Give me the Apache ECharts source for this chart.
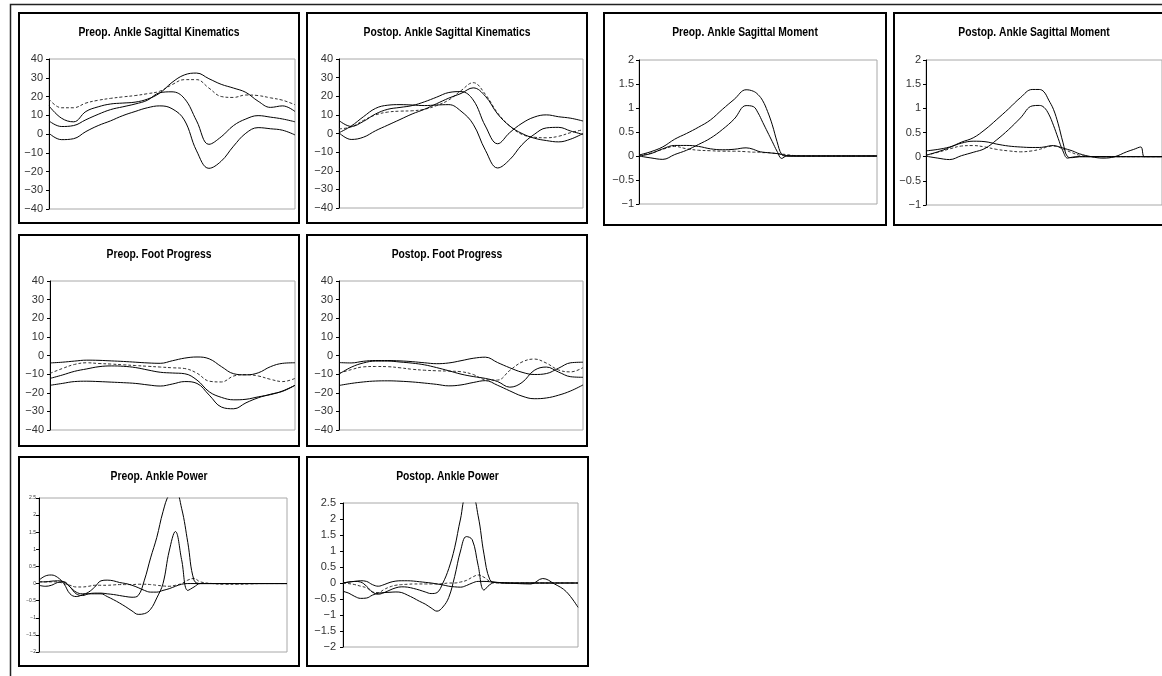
<!DOCTYPE html>
<html>
<head>
<meta charset="utf-8">
<script src="https://cdn.jsdelivr.net/npm/echarts@6/dist/echarts.min.js"></script>
<style>
html,body{margin:0;padding:0;background:#fff;}
#chart{width:1162px;height:676px;}
</style>
</head>
<body>
<div id="chart"></div>
<script>
// gait cycle % (x values)
var kinPct = [0,5,10,15,20,25,30,35,40,45,50,55,60,65,70,75,80,85,90,95,100];
var momPct = [0,5,10,15,20,25,30,35,40,45,48,50,52,54,56,58,60,62,65,70,75,80,85,88,91,92.5,95,100];
var powPct = [0,2.5,5,7.5,10,12.5,15,17.5,20,22.5,25,27.5,30,32.5,35,37.5,40,42.5,45,47.5,50,52.5,55,57.5,60,62.5,65,70,75,80,85,90,95,100];

// ankle sagittal kinematics (deg)
var preKinA = [15,8.5,6.5,12,14.5,16,16.5,17,18.6,21.8,27.5,31.5,32.5,29.5,26.5,24.5,22.2,17.5,14.2,15,12];
var preKinB = [7,4,4.5,7.6,10.5,13,14.5,16,18,22,22.5,19,7,-5.5,-1.5,4.5,8,9.8,9,8,6.5];
var preKinC = [0.4,-3,-2.5,1.3,4.5,7,9.8,12,14,15,13.5,7.5,-9,-18.3,-14.5,-6.5,0.4,3.4,2.8,2,-0.5];
var preKinN = [18.6,14,14,16.5,18,19,19.8,20.5,21.5,22.8,26.3,29,29,24.5,20,19.5,20.8,20.5,19.3,18,15.6];
var postKinP = [0.4,4,9,13.5,15.2,15.5,15.3,15,15.3,15.5,12,5,-9,-18.5,-14,-6,-0.5,3,3.3,1.3,-0.5];
var postKinC = [0.4,-3.2,-2,1.5,4.5,7.5,10.5,13,16,19,21.5,24.5,20,10.5,4,0,-2.5,-3.8,-4.5,-3,0];
var postKinM = [7,3.8,6.5,10.5,13,14,15,17,19.5,22,22.5,18,4,-5.5,0.5,5.5,8.8,10,9,8.2,6.7];
var postKinN = [2.5,3.5,7,10,11.5,12,12.2,13,15,18,23,27.3,21,11,4,-0.5,-2,-2.3,-1.5,0.5,2];

// foot progression (deg)
var preFootT = [-4,-3.6,-3,-2.5,-2.6,-2.9,-3.2,-3.6,-4,-4.2,-2.8,-1.4,-0.8,-1.8,-6,-9.8,-10.4,-9.3,-6,-4.2,-3.9];
var preFootM = [-12.3,-10.5,-8.5,-7.2,-6,-5.6,-5.8,-6.5,-7.8,-9,-9.4,-9.8,-13.2,-19.5,-22.5,-23.8,-23.5,-22.2,-21,-19,-16];
var preFootL = [-16,-15,-14,-13.8,-14,-14.3,-14.6,-15,-15.8,-16.4,-15.3,-14,-15,-21.3,-27.7,-28.6,-25.4,-22.7,-20.8,-19.2,-16];
var preFootN = [-9.6,-7,-4.8,-3.9,-4.3,-4.6,-5,-5.4,-5.8,-6.2,-6.6,-7,-9.5,-13.8,-14.2,-11,-10.3,-11,-12.8,-14,-12.3];
var postFootT = [-3.8,-4,-3.1,-2.7,-2.7,-2.9,-3.3,-3.9,-4.4,-4,-2.8,-1.5,-0.9,-3.8,-6.6,-9,-10.2,-9.7,-6.8,-3.9,-3.6];
var postFootM = [-10,-6.3,-4,-3,-3,-3.5,-4.1,-5,-6.5,-8.2,-10,-11.3,-12.3,-14,-17,-14.5,-8,-6.2,-8.9,-11.4,-11.7];
var postFootL = [-16.1,-15,-14.2,-13.7,-13.6,-13.8,-14.2,-14.8,-15.5,-16.3,-15.8,-14.5,-13.5,-16,-19,-21.8,-23.2,-22.8,-21.3,-19,-15.8];
var postFootN = [-9.5,-7.6,-6.1,-5.9,-6,-6.6,-7.4,-7.9,-8.2,-8.4,-8.7,-10.2,-13,-13.2,-8,-3.5,-1.9,-4.1,-7.8,-8.8,-6.5];

// ankle sagittal moment (Nm/kg)
var preMomT = [0.02,0.09,0.19,0.35,0.47,0.6,0.75,0.97,1.18,1.38,1.35,1.28,1.15,0.93,0.65,0.3,0.03,0,0,0,0,0,0,0,0,0,0,0];
var preMomS = [0,-0.04,-0.07,0.03,0.12,0.24,0.37,0.55,0.77,1.05,1.03,0.9,0.7,0.5,0.3,0.1,-0.05,0,0,0,0,0,0,0,0,0,0,0];
var preMomL = [0,0.05,0.15,0.22,0.22,0.2,0.15,0.13,0.14,0.17,0.14,0.1,0.08,0.07,0.06,0.05,0.03,0.01,0,0,0,0,0,0,0,0,0,0];
var preMomN = [0.02,0.06,0.14,0.2,0.15,0.12,0.11,0.1,0.1,0.09,0.08,0.08,0.07,0.07,0.06,0.05,0.04,0.03,0.01,0,0,0,0,0,0,0,0,0];
var postMomT = [0.03,0.1,0.19,0.3,0.39,0.56,0.77,0.99,1.22,1.39,1.39,1.34,1.17,0.98,0.68,0.3,0,-0.02,0,0,0,0,0,0,0,0,0,0];
var postMomS = [0.01,-0.03,-0.06,0.02,0.09,0.17,0.35,0.56,0.8,1.05,1.06,1.02,0.88,0.65,0.38,0.12,-0.03,-0.01,0,0,0,0,0,0,0,0,0,0];
var postMomL = [0.12,0.15,0.2,0.28,0.32,0.31,0.26,0.22,0.2,0.19,0.19,0.2,0.22,0.23,0.21,0.18,0.15,0.12,0.06,0,-0.03,0,0.1,0.15,0.2,0,0,0];
var postMomN = [0.03,0.09,0.16,0.22,0.23,0.2,0.15,0.12,0.1,0.12,0.15,0.18,0.21,0.22,0.2,0.16,0.12,0.08,0.03,0,0,0,0,0,0,0,0,0];

// ankle power (W/kg)
var prePowT = [-0.05,-0.08,-0.05,0.03,0.05,-0.1,-0.3,-0.35,-0.3,-0.28,-0.28,-0.3,-0.32,-0.35,-0.38,-0.4,-0.35,0.1,0.75,1.35,2.1,2.6,2.7,2.2,1.2,0.1,0,0,0,0,0,0,0,0];
var prePowM = [0.05,0.05,0.07,0.08,0.05,-0.1,-0.25,-0.3,-0.3,-0.3,-0.3,-0.38,-0.47,-0.57,-0.68,-0.8,-0.9,-0.88,-0.75,-0.42,0,0.95,1.52,0.7,-0.2,-0.1,0,0,0,0,0,0,0,0];
var prePowA = [0.1,0.22,0.25,0.18,0,-0.3,-0.38,-0.33,-0.25,-0.1,0.08,0.1,0.08,0.03,0,-0.05,-0.12,-0.2,-0.25,-0.25,-0.2,-0.15,-0.08,-0.02,0,0,0,0,0,0,0,0,0,0];
var prePowN = [0.05,0.05,0.05,0.05,0,-0.05,-0.1,-0.1,-0.08,-0.05,-0.05,-0.05,-0.04,-0.03,-0.03,-0.03,-0.02,-0.02,-0.03,-0.05,-0.07,-0.08,-0.05,0,0.1,0.15,0.05,0,-0.02,-0.02,-0.01,0,0,0];
var postPowT = [0,0.03,0.05,0.03,-0.1,-0.28,-0.35,-0.3,-0.22,-0.15,-0.12,-0.13,-0.17,-0.22,-0.28,-0.33,-0.3,0,0.45,1.1,2.0,2.7,2.7,2.1,0.9,0.1,0.02,0,0,0,0,0,0,0];
var postPowM = [-0.26,-0.32,-0.42,-0.48,-0.47,-0.38,-0.32,-0.3,-0.29,-0.28,-0.3,-0.38,-0.47,-0.57,-0.66,-0.78,-0.88,-0.75,-0.45,0.2,1.0,1.45,1.35,0.55,-0.22,-0.05,0.02,0,0,0,0,0,0,0];
var postPowA = [0,0.03,0.05,0.07,0.05,-0.05,-0.1,-0.05,0.02,0.06,0.07,0.07,0.06,0.04,0.02,0,-0.03,-0.06,-0.1,-0.12,-0.13,-0.08,0,0.05,0.05,0.04,0.02,0,-0.02,-0.03,0.14,-0.03,-0.27,-0.76];
var postPowN = [0,-0.02,-0.05,-0.1,-0.15,-0.28,-0.3,-0.2,-0.12,-0.07,-0.05,-0.04,-0.03,-0.03,-0.03,-0.03,-0.03,-0.02,0,0,0.03,0.08,0.18,0.25,0.18,0.05,0,0,0,0,0,0,0,0];

var ranges = {
  kin: {min:-40, max:40, interval:10},
  mom: {min:-1, max:2, interval:0.5},
  pow: {min:-2, max:2.5, interval:0.5}
};

var panels = [
  {title:'Preop. Ankle Sagittal Kinematics', box:[19,13,280,210], grid:[49,59,246,150], r:'kin', xs:kinPct, lines:[preKinA,preKinB,preKinC], norm:preKinN, fs:11, m:6},
  {title:'Postop. Ankle Sagittal Kinematics', box:[307,13,280,210], grid:[339,59,244,149], r:'kin', xs:kinPct, lines:[postKinP,postKinC,postKinM], norm:postKinN, fs:11, m:6},
  {title:'Preop. Ankle Sagittal Moment', box:[604,13,282,212], grid:[639,60,238,144], r:'mom', xs:momPct, lines:[preMomT,preMomS,preMomL], norm:preMomN, fs:11, m:5},
  {title:'Postop. Ankle Sagittal Moment', box:[894,13,280,212], grid:[926,60,238,145], r:'mom', xs:momPct, lines:[postMomT,postMomS,postMomL], norm:postMomN, fs:11, m:5},
  {title:'Preop. Foot Progress', box:[19,235,280,211], grid:[50,281,245,149], r:'kin', xs:kinPct, lines:[preFootT,preFootM,preFootL], norm:preFootN, fs:11, m:6},
  {title:'Postop. Foot Progress', box:[307,235,280,211], grid:[339,281,244,149], r:'kin', xs:kinPct, lines:[postFootT,postFootM,postFootL], norm:postFootN, fs:11, m:6},
  {title:'Preop. Ankle Power', box:[19,457,280,209], grid:[39,498,248,154], r:'pow', xs:powPct, lines:[prePowT,prePowM,prePowA], norm:prePowN, fs:5, m:3},
  {title:'Postop. Ankle Power', box:[307,457,281,209], grid:[343,503,235,144], r:'pow', xs:powPct, lines:[postPowT,postPowM,postPowA], norm:postPowN, fs:11, m:7}
];

function pts(xs, ys) {
  return xs.map(function (x, i) { return [x, ys[i]]; });
}

var grids = [], xAxes = [], yAxes = [], series = [];
var graphics = [{
  type:'rect', shape:{x:10.5, y:4.5, width:1200, height:700},
  style:{fill:'none', stroke:'#222', lineWidth:1.5}
}];

panels.forEach(function (p, i) {
  var b = p.box, g = p.grid, r = ranges[p.r];
  graphics.push({
    type:'rect', shape:{x:b[0], y:b[1], width:b[2], height:b[3]},
    style:{fill:'none', stroke:'#000', lineWidth:2}
  });
  // titles are drawn narrow, like the condensed face in the original
  graphics.push({
    type:'text', x:b[0] + b[2] / 2, y:b[1] + 20, scaleX:0.86,
    style:{text:p.title, fill:'#000', font:'bold 12px "Liberation Sans", Arial, sans-serif', align:'center', verticalAlign:'middle'}
  });
  grids.push({left:g[0], top:g[1], width:g[2], height:g[3], show:true, borderColor:'#a8a8a8', borderWidth:1, containLabel:false});
  xAxes.push({type:'value', gridIndex:i, min:0, max:100, show:false});
  yAxes.push({
    type:'value', gridIndex:i, min:r.min, max:r.max, interval:r.interval,
    axisLine:{show:true, lineStyle:{color:'#000', width:1}},
    axisTick:{show:true, length:3, lineStyle:{color:'#000'}},
    splitLine:{show:false},
    axisLabel:{
      fontSize:p.fs, color:'#333', margin:p.m, fontFamily:'"Liberation Sans", Arial, sans-serif',
      formatter:function (v) { return String(v).replace('-', '\u2212'); }
    }
  });
  series.push({
    type:'line', xAxisIndex:i, yAxisIndex:i, data:pts(p.xs, p.norm),
    smooth:0.4, symbol:'none', silent:true,
    lineStyle:{color:'#333', width:1, type:[3,2]}
  });
  p.lines.forEach(function (ys) {
    series.push({
      type:'line', xAxisIndex:i, yAxisIndex:i, data:pts(p.xs, ys),
      smooth:0.4, symbol:'none', silent:true,
      lineStyle:{color:'#000', width:1}
    });
  });
});

var chart = echarts.init(document.getElementById('chart'));
chart.setOption({
  animation:false,
  backgroundColor:'#fff',
  grid:grids,
  xAxis:xAxes,
  yAxis:yAxes,
  series:series,
  graphic:graphics
});
</script>
</body>
</html>
